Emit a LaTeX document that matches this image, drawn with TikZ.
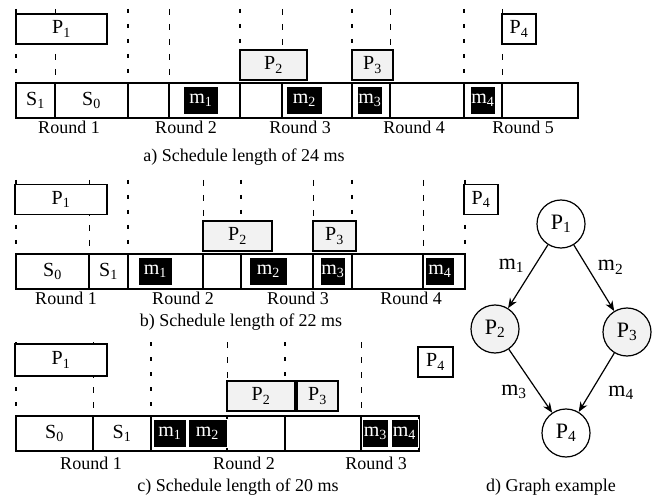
\documentclass[tikz,border=0pt]{standalone}
\usepackage{fontspec}
\setmainfont{Liberation Serif}
\usetikzlibrary{positioning, arrows.meta}
\tikzstyle{slot} = [
    rectangle,
    minimum height=35pt, inner sep=0pt, outer sep=0pt,
    draw=black, line width=1.2pt,
    font=\fontsize{20}{22}\selectfont
]
\tikzstyle{proc} = [
    rectangle,
    minimum height=30pt, inner sep=0pt,
    draw=black, line width=1.2pt, fill=white,
    font=\fontsize{20}{22}\selectfont
]
\tikzstyle{sproc} = [proc, fill=black!5]
\tikzstyle{msg} = [
    rectangle,
    minimum height=28pt, inner sep=0pt,
    draw=white, line width=0.6pt, fill=black, text=white,
    font=\fontsize{20}{22}\selectfont
]
\tikzstyle{bound} = [line width=2.2pt]
\tikzstyle{rdash} = [line width=2.2pt, dash pattern=on 4pt off 11pt]
\tikzstyle{sdash} = [line width=1pt, dash pattern=on 6pt off 9pt]
\tikzstyle{txt} = [inner sep=0pt, font=\fontsize{18}{20}\selectfont]
\tikzstyle{task} = [
    circle,
    minimum size=48pt, inner sep=0pt,
    draw=black, line width=1.2pt, fill=white,
    font=\fontsize{22}{24}\selectfont
]
\tikzstyle{elabel} = [font=\fontsize{22}{24}\selectfont]
\tikzstyle{arrow} = [line width=1.2pt, -{Stealth[length=10pt,width=8pt]}]

\begin{document}
\begin{tikzpicture}[x=1pt, y=-1pt]
        \useasboundingbox (0,0) rectangle (667,497);

        % Schedule a: bus slots
        \node (a1) [slot, minimum width=39pt] at (35.5,100.5) {S\textsubscript{1}};
        \node (a2) [slot, minimum width=73pt, right=0pt of a1] {S\textsubscript{0}};
        \node (a3) [slot, minimum width=41pt, right=0pt of a2] {};
        \node (a4) [slot, minimum width=71pt, right=0pt of a3] {};
        \node (a5) [slot, minimum width=42pt, right=0pt of a4] {};
        \node (a6) [slot, minimum width=70pt, right=0pt of a5] {};
        \node (a7) [slot, minimum width=38pt, right=0pt of a6] {};
        \node (a8) [slot, minimum width=74pt, right=0pt of a7] {};
        \node (a9) [slot, minimum width=38pt, right=0pt of a8] {};
        \node (a10) [slot, minimum width=76pt, right=0pt of a9] {};

        % Schedule b: bus slots
        \node (b1) [slot, minimum width=73pt] at (52.5,271.5) {S\textsubscript{0}};
        \node (b2) [slot, minimum width=39pt, right=0pt of b1] {S\textsubscript{1}};
        \node (b3) [slot, minimum width=75pt, right=0pt of b2] {};
        \node (b4) [slot, minimum width=38pt, right=0pt of b3] {};
        \node (b5) [slot, minimum width=72pt, right=0pt of b4] {};
        \node (b6) [slot, minimum width=39pt, right=0pt of b5] {};
        \node (b7) [slot, minimum width=71pt, right=0pt of b6] {};
        \node (b8) [slot, minimum width=42pt, right=0pt of b7] {};

        % Schedule c: bus slots
        \node (c1) [slot, minimum width=77pt] at (54.5,433.5) {S\textsubscript{0}};
        \node (c2) [slot, minimum width=58pt, right=0pt of c1] {S\textsubscript{1}};
        \node (c3) [slot, minimum width=76pt, right=0pt of c2] {};
        \node (c4) [slot, minimum width=58pt, right=0pt of c3] {};
        \node (c5) [slot, minimum width=76pt, right=0pt of c4] {};
        \node (c6) [slot, minimum width=58pt, right=0pt of c5] {};

        % Round and slot marks
        \foreach \n in {a1,a3,a5,a7,a9,b1,b3,b5,b7,c1,c3,c5} {
            \draw [rdash] (\n.north west) ++(0,-74) -- (\n.north west);
            \draw [bound] (\n.north west) -- (\n.south west);
        }
        \foreach \n in {a2,a4,a6,a8,a10,b2,b4,b6,b8,c2,c4,c6}
            \draw [sdash] (\n.north west) ++(0,-74) -- (\n.north west);
        \draw [rdash] (b8.north east) ++(0,-74) -- (b8.north east);
        \draw [bound] (b8.north east) -- (b8.south east);
        \draw [bound] (c6.north east) -- (c6.south east);

        % Messages
        \node (ma1) [msg, minimum width=35pt, right=14pt of a4.west] {m\textsubscript{1}};
        \node (ma2) [msg, minimum width=36pt, right=4pt of a6.west] {m\textsubscript{2}};
        \node (ma3) [msg, minimum width=25pt, right=5pt of a7.west] {m\textsubscript{3}};
        \node (ma4) [msg, minimum width=25pt, right=6pt of a9.west] {m\textsubscript{4}};
        \node (mb1) [msg, minimum width=34pt, right=10pt of b3.west] {m\textsubscript{1}};
        \node (mb2) [msg, minimum width=38pt, right=8pt of b5.west] {m\textsubscript{2}};
        \node (mb3) [msg, minimum width=25pt, right=7pt of b6.west] {m\textsubscript{3}};
        \node (mb4) [msg, minimum width=29pt, right=2pt of b8.west] {m\textsubscript{4}};
        \node (mc1) [msg, minimum width=33pt, right=2pt of c3.west] {m\textsubscript{1}};
        \node (mc2) [msg, minimum width=39pt, right=1pt of mc1] {m\textsubscript{2}};
        \node (mc3) [msg, minimum width=26pt, right=1pt of c6.west] {m\textsubscript{3}};
        \node (mc4) [msg, minimum width=27pt, right=2pt of mc3] {m\textsubscript{4}};

        % Processes
        \node (pa1) [proc, minimum width=91pt] at (61.5,29) {P\textsubscript{1}};
        \node (pa2) [sproc, minimum width=67pt] at (273.5,65) {P\textsubscript{2}};
        \node (pa3) [sproc, minimum width=41pt] at (372.5,65) {P\textsubscript{3}};
        \node (pa4) [proc, minimum width=34pt] at (519,29) {P\textsubscript{4}};
        \node (pb1) [proc, minimum width=92pt] at (61,199.5) {P\textsubscript{1}};
        \node (pb2) [sproc, minimum width=69pt] at (237.5,236) {P\textsubscript{2}};
        \node (pb3) [sproc, minimum width=43pt] at (334.5,236) {P\textsubscript{3}};
        \node (pb4) [proc, minimum width=34pt] at (481,199.5) {P\textsubscript{4}};
        \node (pc1) [proc, minimum width=92pt, minimum height=32pt] at (61,360) {P\textsubscript{1}};
        \node (pc2) [sproc, minimum width=68pt] at (261,396) {P\textsubscript{2}};
        \node (pc3) [sproc, minimum width=41pt] at (317.5,396) {P\textsubscript{3}};
        \node (pc4) [proc, minimum width=35pt] at (435.5,362) {P\textsubscript{4}};

        % Round names and captions
        \node (ra1) [txt] at (69,127) {Round 1};
        \node (ra2) [txt] at (186,127) {Round 2};
        \node (ra3) [txt] at (300,127) {Round 3};
        \node (ra4) [txt] at (414,127) {Round 4};
        \node (ra5) [txt] at (523,127) {Round 5};
        \node (capa) [txt] at (244,157) {a) Schedule length of 24 ms};
        \node (rb1) [txt] at (66,298) {Round 1};
        \node (rb2) [txt] at (183,298) {Round 2};
        \node (rb3) [txt] at (298,298) {Round 3};
        \node (rb4) [txt] at (411,298) {Round 4};
        \node (capb) [txt] at (241,322) {b) Schedule length of 22 ms};
        \node (rc1) [txt] at (91,463) {Round 1};
        \node (rc2) [txt] at (244,463) {Round 2};
        \node (rc3) [txt] at (376,463) {Round 3};
        \node (capc) [txt] at (238,487) {c) Schedule length of 20 ms};

        % Graph example
        \node (t1) [task] at (561,224) {P\textsubscript{1}};
        \node (t2) [task, fill=black!5] at (495,329) {P\textsubscript{2}};
        \node (t3) [task, fill=black!5] at (627,332) {P\textsubscript{3}};
        \node (t4) [task] at (566,433) {P\textsubscript{4}};
        \draw [arrow] (t1) -- node[elabel, above left] {m\textsubscript{1}} (t2);
        \draw [arrow] (t1) -- node[elabel, above right] {m\textsubscript{2}} (t3);
        \draw [arrow] (t2) -- node[elabel, below left] {m\textsubscript{3}} (t4);
        \draw [arrow] (t3) -- node[elabel, below right, xshift=8pt] {m\textsubscript{4}} (t4);
        \node (capd) [txt] at (551,487) {d) Graph example};
    \end{tikzpicture}
\end{document}
